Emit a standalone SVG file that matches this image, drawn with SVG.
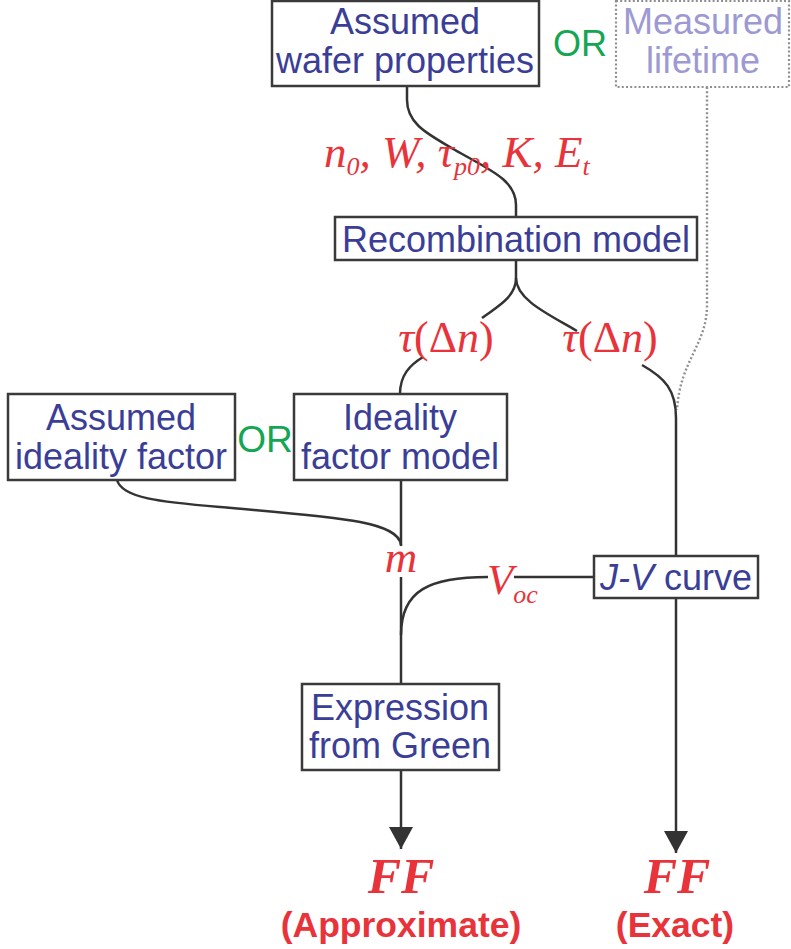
<svg xmlns="http://www.w3.org/2000/svg" width="791" height="949" viewBox="0 0 791 949">
<defs>
<style>
.box{fill:#fff;stroke:#3a3a3a;stroke-width:2.5}
.dbox{fill:#fff;stroke:#8f8f8f;stroke-width:2.2;stroke-dasharray:2 2.2}
.lbl{font-family:"Liberation Sans",Arial,sans-serif;font-size:36px;fill:#3b3e96;text-anchor:middle}
.meas{fill:#9d9ad3}
.or{font-family:"Liberation Sans",Arial,sans-serif;fill:#14a653;text-anchor:middle}
.math{font-family:"Liberation Serif","Times New Roman",serif;font-style:italic;fill:#e8333b}
.up{font-style:normal}
.sub{font-size:26px}
.ff{font-family:"Liberation Serif","Times New Roman",serif;font-style:italic;font-weight:bold;font-size:50px;fill:#e8333b;text-anchor:middle}
.res{font-family:"Liberation Sans",Arial,sans-serif;font-weight:bold;font-size:35.5px;fill:#e8333b;text-anchor:middle}
.ln{fill:none;stroke:#333;stroke-width:2.5}
.dot{fill:none;stroke:#8f8f8f;stroke-width:2.4;stroke-dasharray:2 2.2}
</style>
<marker id="arr" markerUnits="userSpaceOnUse" markerWidth="24" markerHeight="26" refX="22" refY="12" orient="auto">
<path d="M0,0 L22,12 L0,24 Z" fill="#333"/>
</marker>
</defs>

<g id="connectors">
<path class="dot" d="M707,87 L707,305 C707,345 680,360 677,410"/>
<path class="ln" d="M407,86 L407,100 C407,125 430,135 455,150 C490,170 516,180 516,205 L516,217"/>
<path class="ln" d="M516,260 L516,278 C516,298 495,308 482,318"/>
<path class="ln" d="M516,278 C516,300 550,315 577,331"/>
<path class="ln" d="M423,357 C410,365 400,375 400,394"/>
<path class="ln" d="M642,365 C665,378 676,390 676,418 L676,556"/>
<path class="ln" d="M117,480 C122,498 160,502 220,507 C330,517 398,520 401,545"/>
<path class="ln" d="M401,480 L401,546"/>
<path class="ln" d="M401,577 L401,684"/>
<path class="ln" d="M488,577 C430,577 401,590 401,635"/>
<path class="ln" d="M514,577 L594,577"/>
<path class="ln" d="M401,770 L401,849" marker-end="url(#arr)"/>
<path class="ln" d="M676,598 L676,853" marker-end="url(#arr)"/>
</g>

<g id="wafer">
<rect class="box" x="272" y="1" width="267" height="85"/>
<text class="lbl" x="405" y="34">Assumed</text>
<text class="lbl" x="405" y="73">wafer properties</text>
</g>
<g id="or1"><text class="or" x="580" y="56" font-size="36">OR</text></g>
<g id="measured">
<rect class="dbox" x="616" y="1" width="173" height="86"/>
<text class="lbl meas" x="703" y="34">Measured</text>
<text class="lbl meas" x="703" y="73">lifetime</text>
</g>

<g id="params">
<text class="math" x="324" y="167" font-size="45">n<tspan class="sub" dy="8">0</tspan><tspan dy="-8">, W, τ</tspan><tspan class="sub" dy="8">p0</tspan><tspan dy="-8">, K, E</tspan><tspan class="sub" dy="8">t</tspan></text>
</g>

<g id="recomb">
<rect class="box" x="335" y="217" width="362" height="43"/>
<text class="lbl" x="516" y="252">Recombination model</text>
</g>

<g id="tau1"><text class="math" x="446" y="352" font-size="44" text-anchor="middle">τ<tspan class="up">(Δ</tspan>n<tspan class="up">)</tspan></text></g>
<g id="tau2"><text class="math" x="610" y="352" font-size="44" text-anchor="middle">τ<tspan class="up">(Δ</tspan>n<tspan class="up">)</tspan></text></g>

<g id="assumed-ideality">
<rect class="box" x="8" y="394" width="227" height="86"/>
<text class="lbl" x="121" y="430">Assumed</text>
<text class="lbl" x="121" y="469">ideality factor</text>
</g>
<g id="or2"><text class="or" x="265" y="452" font-size="37">OR</text></g>
<g id="ideality-model">
<rect class="box" x="294" y="394" width="213" height="86"/>
<text class="lbl" x="400" y="430">Ideality</text>
<text class="lbl" x="400" y="469">factor model</text>
</g>

<g id="m"><text class="math" x="401" y="572" font-size="45" text-anchor="middle">m</text></g>
<g id="voc"><text class="math" x="487" y="594" font-size="43">V<tspan class="sub" dy="9">oc</tspan></text></g>

<g id="jv">
<rect class="box" x="594" y="556" width="164" height="42"/>
<text class="lbl" x="676" y="590"><tspan font-style="italic">J-V</tspan> curve</text>
</g>

<g id="green">
<rect class="box" x="302" y="684" width="197" height="86"/>
<text class="lbl" x="400" y="720">Expression</text>
<text class="lbl" x="400" y="758">from Green</text>
</g>

<g id="ff-approx">
<text class="ff" x="401" y="893">FF</text>
<text class="res" x="401" y="937">(Approximate)</text>
</g>
<g id="ff-exact">
<text class="ff" x="677" y="893">FF</text>
<text class="res" x="675" y="937">(Exact)</text>
</g>
</svg>
